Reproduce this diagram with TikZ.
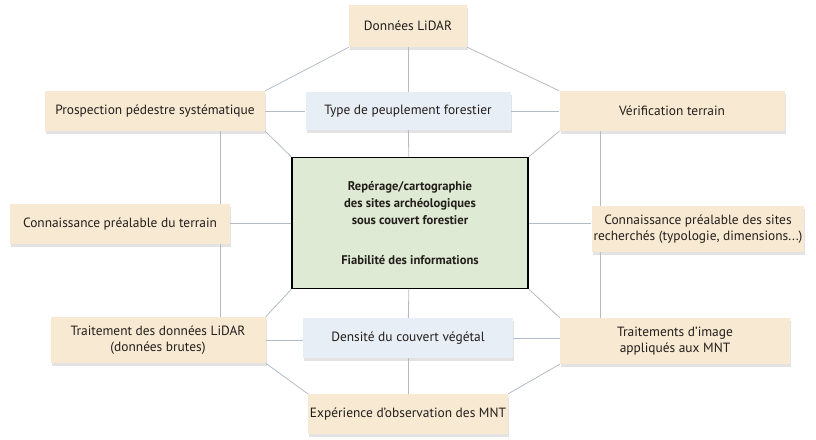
\documentclass[tikz,border=0pt]{standalone}
\usepackage{fontspec}
\setmainfont{PT Sans}
\usetikzlibrary{shadows}
\definecolor{sable}{RGB}{247,233,210}
\definecolor{brume}{RGB}{232,238,245}
\definecolor{tilleul}{RGB}{222,234,211}
\definecolor{liencol}{RGB}{178,188,198}
\definecolor{encre}{RGB}{35,30,28}
\begin{document}
\begin{tikzpicture}[x=1pt,y=-1pt,
    facteur/.style={fill=sable, align=center, inner sep=2pt, text=encre,
      font=\fontsize{13.4}{16.5}\selectfont,
      drop shadow={opacity=0.22, shadow xshift=1pt, shadow yshift=-3pt}},
    milieu/.style={facteur, fill=brume},
    coeur/.style={draw=black, line width=1.6pt, fill=tilleul, align=center, text=encre,
      font=\bfseries\fontsize{12.6}{17}\selectfont,
      minimum width=236pt, minimum height=131pt},
    lien/.style={draw=liencol, line width=0.8pt}]
                \useasboundingbox (0,0) rectangle (816,439);
                \coordinate (gauche) at (220,0);
                \coordinate (droite) at (600,0);
                \node [facteur, minimum width=118pt, minimum height=42pt] (lidar) at (408,26) {Données LiDAR};
                \node [milieu, minimum width=205pt, minimum height=38pt] (type) at (408,111) {Type de peuplement forestier};
                \node [facteur, minimum width=220pt, minimum height=40pt] (prosp) at (155,111) {Prospection pédestre systématique};
                \node [facteur, minimum width=225pt, minimum height=40pt] (verif) at (672,111) {Vérification terrain};
                \node [coeur] (core) at (410,223) {Repérage/cartographie\\des sites archéologiques\\sous couvert forestier\\[1.8em]Fiabilité des informations};
                \node [facteur, minimum width=220pt, minimum height=40pt] (terrain) at (120,224) {Connaissance préalable du terrain};
                \node [facteur, minimum width=206pt, minimum height=46pt] (sites) at (698,229) {Connaissance préalable des sites\\recherchés (typologie, dimensions...)};
                \node [facteur, minimum width=215pt, minimum height=46pt] (trait) at (158,340) {Traitement des données LiDAR\\(données brutes)};
                \node [milieu, minimum width=210pt, minimum height=40pt] (dens) at (408,338) {Densité du couvert végétal};
                \node [facteur, minimum width=230pt, minimum height=46pt] (image) at (675,341) {Traitements d'image\\appliqués aux MNT};
                \node [facteur, minimum width=195pt, minimum height=40pt] (exper) at (408,414) {Expérience d'observation des MNT};
                % haut
                \draw [lien] (lidar) to (type);
                \draw [lien] (type) to (core);
                \draw [lien] (lidar.south west) to (prosp.north east);
                \draw [lien] (lidar.south east) to (verif.north west);
                \draw [lien] (prosp) to (type);
                \draw [lien] (type) to (verif);
                \draw [lien] (prosp.south east) to (core.north west);
                \draw [lien] (verif.south west) to (core.north east);
                % colonnes
                \draw [lien] (prosp.south -| gauche) to (terrain.north -| gauche);
                \draw [lien] (terrain.south -| gauche) to (trait.north -| gauche);
                \draw [lien] (terrain.east |- core.west) to (core.west);
                \draw [lien] (core.east) to (core.east -| sites.west);
                \draw [lien] (verif.south -| droite) to (sites.north -| droite);
                \draw [lien] (sites.south -| droite) to (image.north -| droite);
                % bas
                \draw [lien] (trait.north east) to (core.south west);
                \draw [lien] (image.north west) to (core.south east);
                \draw [lien] (core) to (dens);
                \draw [lien] (trait.east) to (trait.east -| dens.west);
                \draw [lien] (dens.east) to (dens.east -| image.west);
                \draw [lien] (dens) to (exper);
                \draw [lien] (trait.south east) to (exper.north west);
                \draw [lien] (image.south west) to (exper.north east);
            \end{tikzpicture}
\end{document}
